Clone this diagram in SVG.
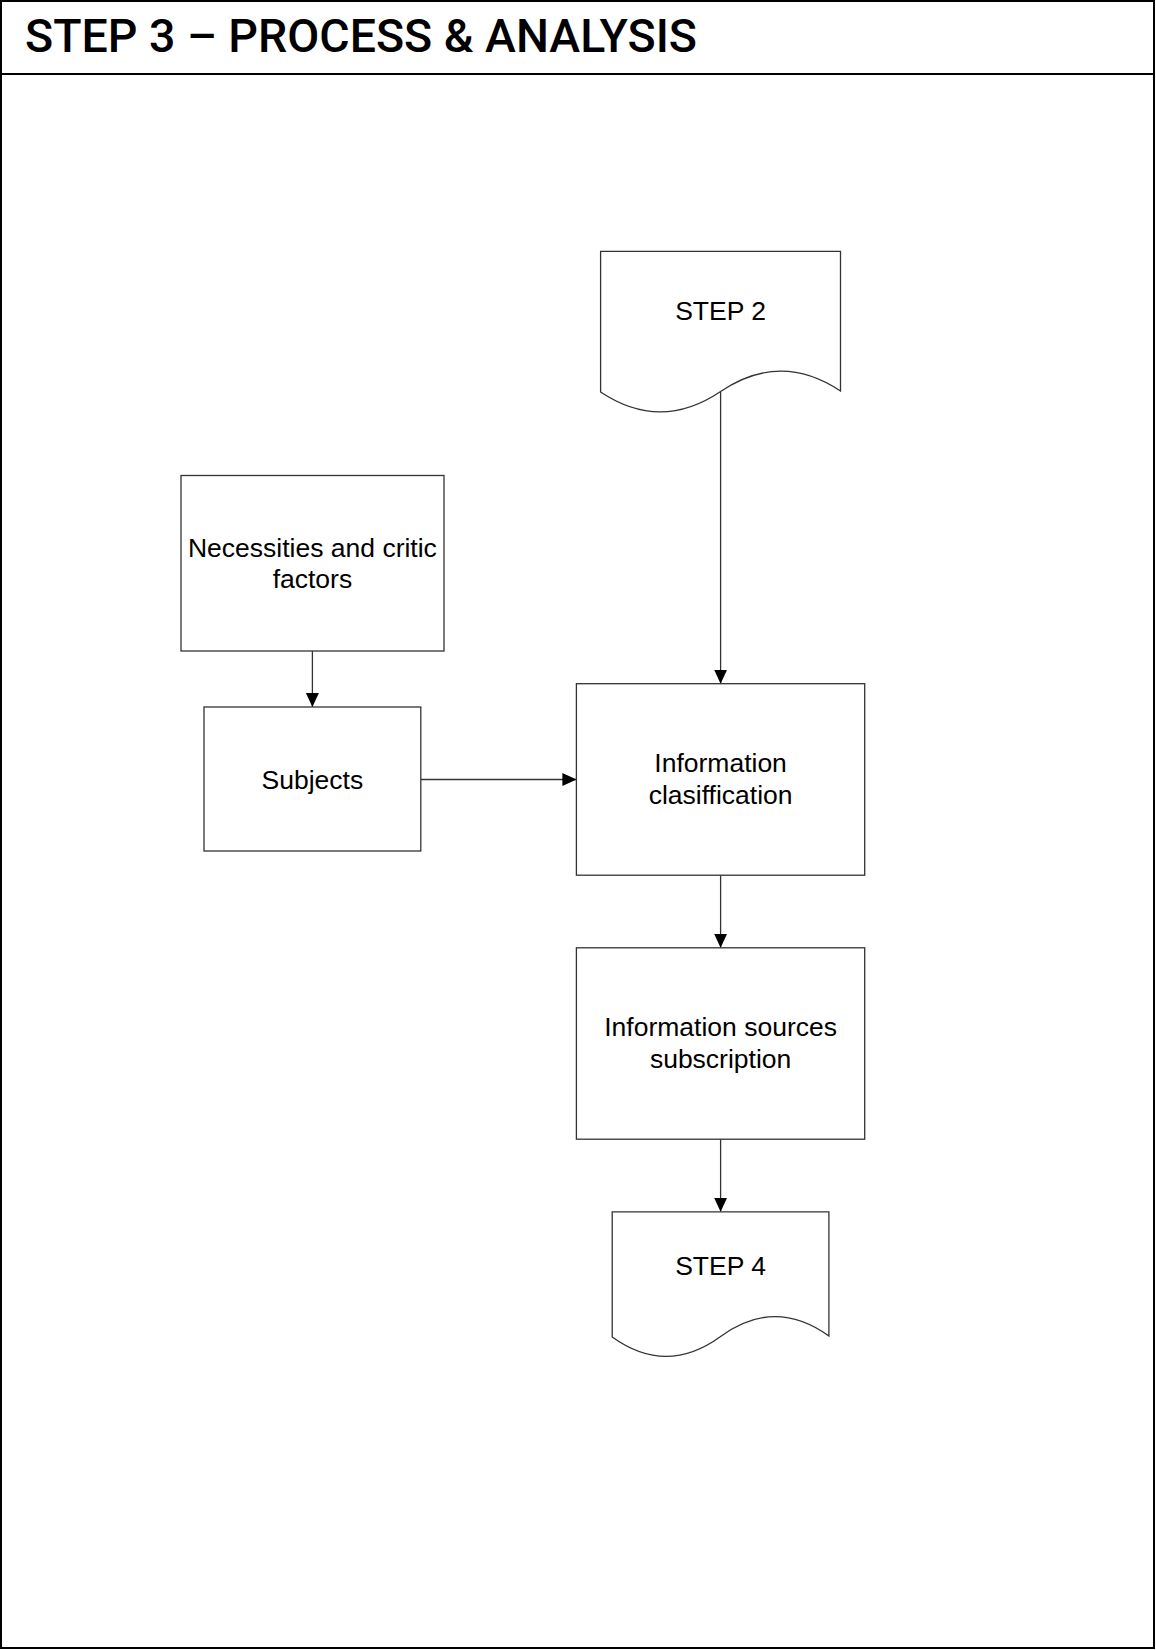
<svg xmlns="http://www.w3.org/2000/svg" width="1156" height="1650" viewBox="0 0 1156 1650">
  <style>
    .frame { fill: #ffffff; stroke: #000000; stroke-width: 2; }
    .box { fill: #ffffff; stroke: #333333; stroke-width: 1.3; }
    .conn { fill: none; stroke: #333333; stroke-width: 1.3; }
    .lbl { font-family: "Liberation Sans", Arial, sans-serif; font-size: 26.5px; fill: #000000; text-anchor: middle; }
    .title { font-family: Roboto, "Liberation Sans", Arial, sans-serif; font-size: 46px; font-weight: 500; fill: #000000; }
  </style>
  <defs>
    <marker id="arrow" viewBox="0 0 14 14" refX="14" refY="7" markerWidth="14" markerHeight="14" markerUnits="userSpaceOnUse" orient="auto">
      <path d="M0,0.5 L14,7 L0,13.5 Z" fill="#000000"/>
    </marker>
  </defs>

  <!-- page frame and heading band -->
  <g id="frame">
    <rect class="frame" x="1" y="1" width="1153" height="1647"/>
    <line x1="1" y1="74" x2="1154" y2="74" stroke="#000000" stroke-width="2"/>
    <text class="title" x="25" y="52" textLength="672" lengthAdjust="spacingAndGlyphs">STEP 3 – PROCESS &amp; ANALYSIS</text>
  </g>

  <!-- connectors -->
  <g id="connectors">
    <line class="conn" x1="720.6" y1="392" x2="720.6" y2="683.7" marker-end="url(#arrow)"/>
    <line class="conn" x1="312.4" y1="651" x2="312.4" y2="707" marker-end="url(#arrow)"/>
    <line class="conn" x1="420.8" y1="779.5" x2="576.4" y2="779.5" marker-end="url(#arrow)"/>
    <line class="conn" x1="720.6" y1="875.2" x2="720.6" y2="947.8" marker-end="url(#arrow)"/>
    <line class="conn" x1="720.6" y1="1139.2" x2="720.6" y2="1211.8" marker-end="url(#arrow)"/>
  </g>

  <!-- document shape: previous step -->
  <g id="step2">
    <path class="box" d="M600.6,392 V251.4 H840.5 V391 Q780.5,351 720.6,391.5 Q660.6,432 600.6,392 Z"/>
    <text class="lbl" x="720.6" y="320">STEP 2</text>
  </g>

  <g id="necessities">
    <rect class="box" x="181" y="475.5" width="263" height="175.5"/>
    <text class="lbl" x="312.4" y="556.5">Necessities and critic</text>
    <text class="lbl" x="312.4" y="588">factors</text>
  </g>

  <g id="subjects">
    <rect class="box" x="204" y="707" width="216.8" height="144"/>
    <text class="lbl" x="312.4" y="789">Subjects</text>
  </g>

  <g id="classification">
    <rect class="box" x="576.4" y="683.7" width="288.3" height="191.5"/>
    <text class="lbl" x="720.6" y="772">Information</text>
    <text class="lbl" x="720.6" y="803.6">clasiffication</text>
  </g>

  <g id="sources">
    <rect class="box" x="576.4" y="947.8" width="288.3" height="191.4"/>
    <text class="lbl" x="720.6" y="1036.2">Information sources</text>
    <text class="lbl" x="720.6" y="1067.8">subscription</text>
  </g>

  <!-- document shape: next step -->
  <g id="step4">
    <path class="box" d="M612.2,1337 V1211.8 H828.9 V1336 Q774.7,1297 720.6,1336.5 Q666.4,1376 612.2,1337 Z"/>
    <text class="lbl" x="720.6" y="1275">STEP 4</text>
  </g>
</svg>
